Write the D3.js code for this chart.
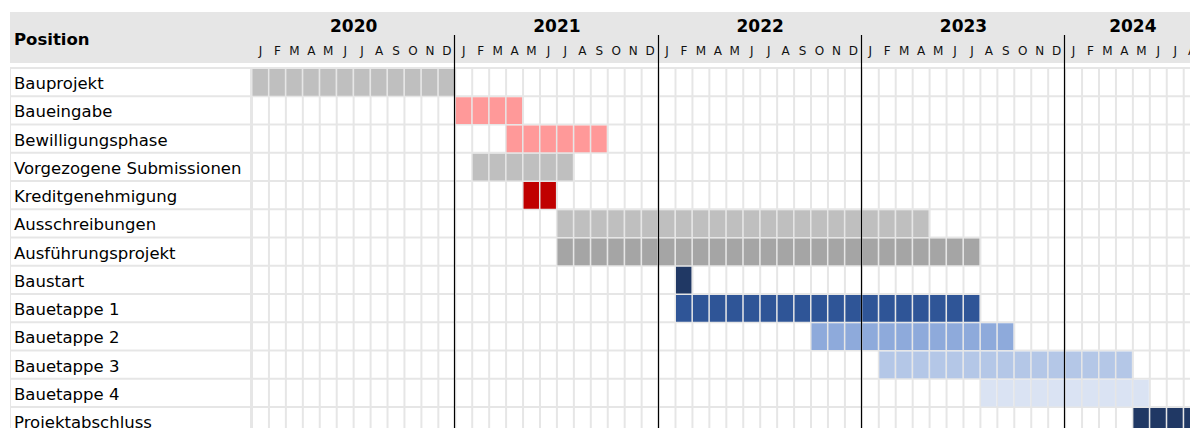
<!DOCTYPE html>
<html>
<head>
<meta charset="utf-8">
<script src="https://cdn.jsdelivr.net/npm/d3@7"></script>
<style>
  body { margin: 0; background: #fff; overflow: hidden; }
</style>
</head>
<body>
<div id="chart"></div>
<script>
// Data (months counted from Jan 2020 = 0, end month inclusive)
var tasks = ['Bauprojekt', 'Baueingabe', 'Bewilligungsphase', 'Vorgezogene Submissionen',
  'Kreditgenehmigung', 'Ausschreibungen', 'Ausführungsprojekt', 'Baustart',
  'Bauetappe 1', 'Bauetappe 2', 'Bauetappe 3', 'Bauetappe 4', 'Projektabschluss'];
var startMonth = [0, 12, 15, 13, 16, 18, 18, 25, 25, 33, 37, 43, 52];
var endMonth   = [11, 15, 20, 18, 17, 39, 42, 25, 42, 44, 51, 52, 55];
var taskColors = ['#bfbfbf', '#ff9999', '#ff9999', '#bfbfbf', '#c00000', '#bfbfbf', '#a5a5a5',
  '#203864', '#2f5597', '#8eaadb', '#b4c7e7', '#dae3f3', '#203864'];
var years = [2020, 2021, 2022, 2023, 2024];
var monthLetters = ['J', 'F', 'M', 'A', 'M', 'J', 'J', 'A', 'S', 'O', 'N', 'D'];
var monthsInLastYear = 8;

var attrs = {
  svgWidth: 1190,
  svgHeight: 428,
  labelLeft: 10,
  gridLeft: 252,
  monthWidth: 16.94,
  headerTop: 12,
  headerBottom: 63,
  rowTop: 68,
  rowHeight: 28.25,
  lineColor: '#e6e6e6',
  textFill: '#000',
  font: '"DejaVu Sans", Verdana, sans-serif'
};

// month list
var months = [];
years.forEach(function (yr, i) {
  var n = i == years.length - 1 ? monthsInLastYear : 12;
  for (var m = 0; m < n; m++) months.push({ year: yr, m: m, idx: months.length });
});

var x = d3.scaleBand()
  .domain(d3.range(months.length))
  .range([attrs.gridLeft, attrs.gridLeft + months.length * attrs.monthWidth]);

var y = d3.scaleBand()
  .domain(tasks)
  .range([attrs.rowTop, attrs.rowTop + tasks.length * attrs.rowHeight]);

var svg = d3.select('#chart').append('svg')
  .attr('width', attrs.svgWidth)
  .attr('height', attrs.svgHeight)
  .attr('font-family', attrs.font);

// header band
svg.append('rect')
  .attr('x', attrs.labelLeft).attr('y', attrs.headerTop)
  .attr('width', attrs.svgWidth - attrs.labelLeft)
  .attr('height', attrs.headerBottom - attrs.headerTop)
  .attr('fill', '#e6e6e6');

svg.append('text')
  .attr('x', 14).attr('y', 45)
  .attr('font-size', 16.5).attr('font-weight', 'bold')
  .attr('fill', attrs.textFill)
  .text('Position');

// year labels
var yearData = years.map(function (yr) {
  var ms = months.filter(function (d) { return d.year == yr; });
  return { year: yr, first: ms[0].idx, last: ms[ms.length - 1].idx };
});

svg.append('g').selectAll('text').data(yearData).join('text')
  .attr('x', d => (x(d.first) + x(d.last) + x.bandwidth()) / 2)
  .attr('y', 32)
  .attr('text-anchor', 'middle')
  .attr('font-size', 17).attr('font-weight', 'bold')
  .attr('fill', attrs.textFill)
  .text(d => d.year);

svg.append('g').selectAll('text').data(months).join('text')
  .attr('x', d => x(d.idx) + x.bandwidth() / 2)
  .attr('y', 55)
  .attr('text-anchor', 'middle')
  .attr('font-size', 12)
  .attr('fill', '#111')
  .text(d => monthLetters[d.m]);

// grid background (lines show through gaps)
svg.append('rect')
  .attr('x', attrs.labelLeft)
  .attr('y', attrs.rowTop - 1)
  .attr('width', attrs.svgWidth - attrs.labelLeft)
  .attr('height', attrs.svgHeight - attrs.rowTop + 1)
  .attr('fill', attrs.lineColor);

var rows = svg.append('g').selectAll('g').data(tasks).join('g')
  .attr('transform', d => 'translate(0,' + y(d) + ')');

rows.append('rect')
  .attr('x', attrs.labelLeft + 1)
  .attr('y', 1)
  .attr('width', attrs.gridLeft - attrs.labelLeft - 3)
  .attr('height', y.bandwidth() - 2)
  .attr('fill', '#fff');

rows.selectAll('rect.cell').data(months).join('rect')
  .attr('class', 'cell')
  .attr('x', d => x(d.idx) + 1)
  .attr('y', 1)
  .attr('width', x.bandwidth() - 2)
  .attr('height', y.bandwidth() - 2)
  .attr('fill', '#fff');

rows.append('text')
  .attr('x', 14)
  .attr('y', y.bandwidth() / 2 + 7)
  .attr('font-size', 16.5)
  .attr('fill', attrs.textFill)
  .text(d => d);

// bars: one block per month
rows.each(function (task, i) {
  var cells = d3.range(startMonth[i], endMonth[i] + 1);
  d3.select(this).selectAll('rect.bar').data(cells).join('rect')
    .attr('class', 'bar')
    .attr('x', d => x(d) + 0.5)
    .attr('y', 1)
    .attr('width', x.bandwidth() - 1.5)
    .attr('height', y.bandwidth() - 1.5)
    .attr('fill', taskColors[i]);
});

// year separators
svg.append('g').selectAll('line').data(yearData.slice(1)).join('line')
  .attr('x1', d => Math.round(x(d.first)) - 0.5)
  .attr('x2', d => Math.round(x(d.first)) - 0.5)
  .attr('y1', 35)
  .attr('y2', attrs.svgHeight)
  .attr('stroke', '#000')
  .attr('stroke-width', 1.2);
</script>
</body>
</html>
